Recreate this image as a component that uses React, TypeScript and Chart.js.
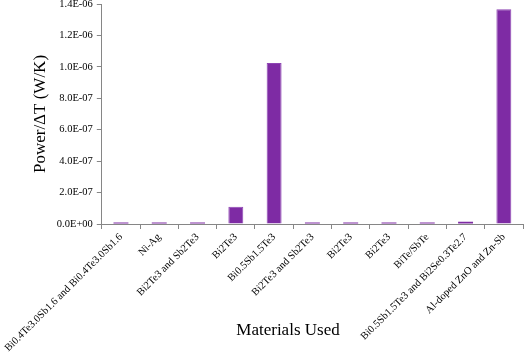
import React, { useEffect, useRef } from "react";
import { Chart, registerables } from "chart.js";

Chart.register(...registerables);

const categories = [
  "Bi0.4Te3.0Sb1.6 and Bi0.4Te3.0Sb1.6",
  "Ni-Ag",
  "Bi2Te3 and Sb2Te3",
  "Bi2Te3",
  "Bi0.5Sb1.5Te3",
  "Bi2Te3 and Sb2Te3",
  "Bi2Te3",
  "Bi2Te3",
  "BiTe/SbTe",
  "Bi0.5Sb1.5Te3 and Bi2Se0.3Te2.7",
  "Al-doped ZnO and Zn-Sb",
];

const powerPerDeltaT = [8e-9, 8e-9, 8e-9, 1.1e-7, 1.025e-6, 8e-9, 8e-9, 8e-9, 8e-9, 1.5e-8, 1.366e-6];

const yMin = 0;
const yMax = 1.4e-6;
const yStep = 2e-7;

const yTitle = "Power/ΔT (W/K)";
const xTitle = "Materials Used";

const fmt = (v: number) => {
  const s = Number(v).toExponential(1);
  const [m, e] = s.split("e");
  const sign = e.startsWith("-") ? "-" : "+";
  const digits = e.replace(/[+-]/, "").padStart(2, "0");
  return `${m}E${sign}${digits}`;
};

export default function App() {
  const ref = useRef<HTMLCanvasElement | null>(null);
  useEffect(() => {
    if (!ref.current) return;
    const font = "'Liberation Serif', 'Times New Roman', serif";
    const xTitlePlugin = {
      id: "xTitle",
      afterDraw(chart: any) {
        const ctx = chart.ctx;
        ctx.save();
        ctx.font = `17px ${font}`;
        ctx.fillStyle = "#000";
        ctx.textAlign = "center";
        ctx.textBaseline = "middle";
        ctx.fillText(xTitle, 288, 331);
        ctx.restore();
      },
    };
    const chart = new Chart(ref.current, {
      type: "bar",
      data: {
        labels: categories,
        datasets: [
          {
            data: powerPerDeltaT,
            backgroundColor: "#7e2ba4",
            borderColor: "#8e45b4",
            borderWidth: (c: any) => (Number(c.raw) > 5e-8 ? 1 : 0),
            minBarLength: 1.5,
            barPercentage: 0.39,
            categoryPercentage: 1,
          },
        ],
      },
      options: {
        responsive: false,
        animation: false,
        layout: { padding: { top: 0, right: 2, left: 0, bottom: 0 } },
        plugins: { legend: { display: false }, tooltip: { enabled: false } },
        scales: {
          x: {
            grid: {
              display: true,
              offset: true,
              drawOnChartArea: false,
              drawTicks: true,
              tickLength: 5,
              color: "#868686",
            },
            border: { display: true, color: "#868686", width: 1 },
            ticks: {
              minRotation: 45,
              maxRotation: 45,
              autoSkip: false,
              color: "#000",
              padding: 2,
              font: { family: font, size: 10.5 },
            },
            afterFit: (s: any) => {
              s.height = 131;
            },
          },
          y: {
            min: yMin,
            max: yMax,
            grid: {
              display: true,
              drawOnChartArea: false,
              drawTicks: true,
              tickLength: 5,
              color: "#868686",
            },
            border: { display: true, color: "#868686", width: 1 },
            ticks: {
              stepSize: yStep,
              color: "#000",
              padding: 4,
              font: { family: font, size: 10.5 },
              callback: (v: any) => fmt(Number(v)),
            },
            title: {
              display: true,
              text: yTitle,
              color: "#000",
              font: { family: font, size: 17, weight: "normal" },
              padding: { top: 28, bottom: 0 },
            },
            afterFit: (s: any) => {
              s.width = 99;
              s.paddingTop = 4;
            },
          },
        },
      },
      plugins: [xTitlePlugin],
    });
    return () => chart.destroy();
  }, []);
  return (
    <div style={{ position: "fixed", left: 0, top: 0, width: 525, height: 355, background: "#fff" }}>
      <canvas ref={ref} width={525} height={355} />
    </div>
  );
}
